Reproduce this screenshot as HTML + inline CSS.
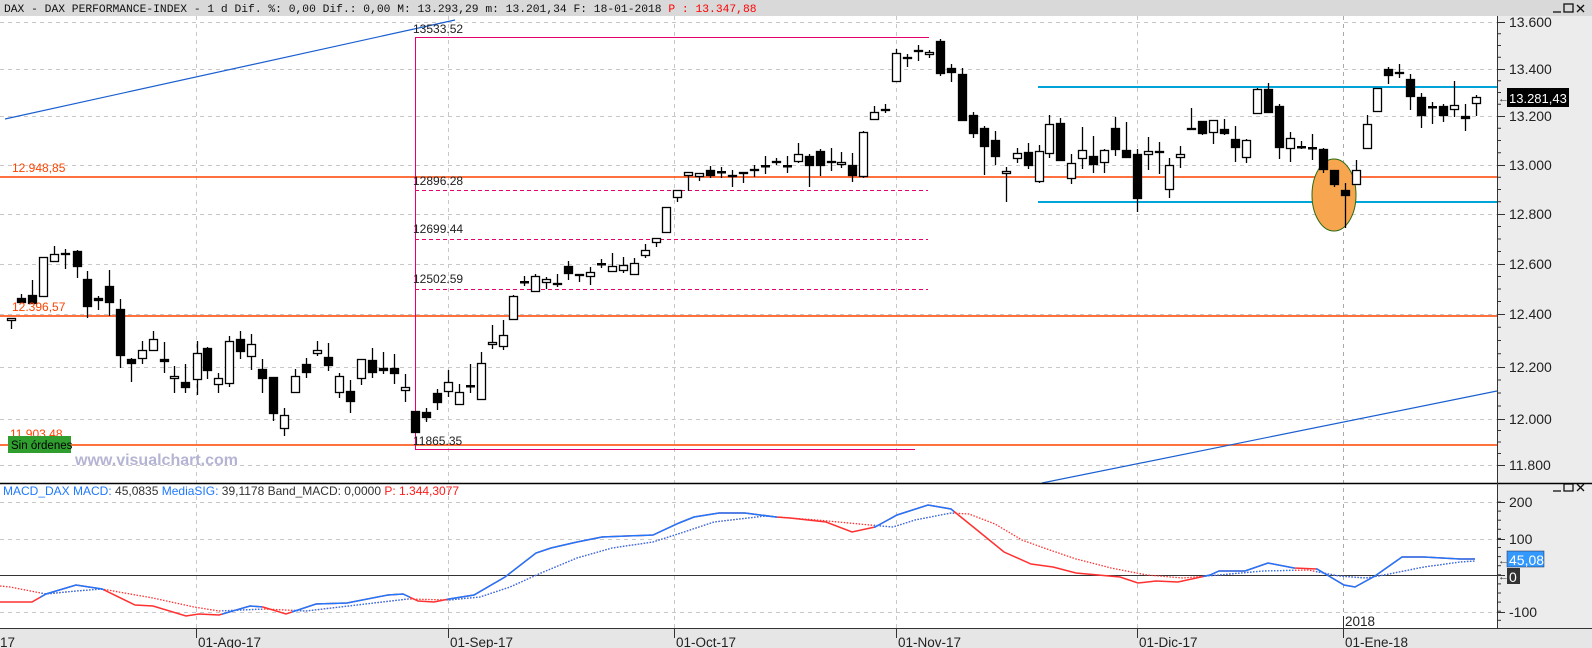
<!DOCTYPE html>
<html><head><meta charset="utf-8"><style>
html,body{margin:0;padding:0;background:#fff;}
body{width:1592px;height:648px;overflow:hidden;position:relative;font-family:"Liberation Sans",sans-serif;}
svg{position:absolute;left:0;top:0;}
</style></head><body>
<svg id="s" width="1592" height="648" xmlns="http://www.w3.org/2000/svg" font-family="Liberation Sans, sans-serif">
<defs>
<clipPath id="cm"><rect x="0" y="16" width="1497" height="467"/></clipPath>
<clipPath id="cb"><rect x="0" y="484" width="1497" height="144"/></clipPath>
<clipPath id="blueR">
<rect x="40" y="484" width="64" height="144"/><rect x="222" y="484" width="40" height="144"/>
<rect x="292" y="484" width="118" height="144"/><rect x="447" y="484" width="330" height="144"/>
<rect x="874" y="484" width="80" height="144"/><rect x="1203" y="484" width="92" height="144"/>
<rect x="1316" y="484" width="181" height="144"/></clipPath>
</defs>
<rect x="0" y="0" width="1592" height="16" fill="#d9d9d9"/>
<rect x="1497" y="16" width="95" height="612" fill="#ececec"/>
<rect x="0" y="628" width="1592" height="20" fill="#e6e6e6"/>
<text x="4" y="12" font-family="Liberation Mono, monospace" font-size="11.3" fill="#111">DAX - DAX PERFORMANCE-INDEX -  1 d Dif. %: 0,00 Dif.: 0,00 M: 13.293,29 m: 13.201,34 F: 18-01-2018 <tspan fill="#ff0000">P : 13.347,88</tspan></text>
<g fill="none" stroke="#111" stroke-width="1.3">
<line x1="1553" y1="12" x2="1561" y2="12"/><rect x="1564" y="4" width="9" height="8"/><line x1="1577" y1="5" x2="1584" y2="12"/><line x1="1584" y1="5" x2="1577" y2="12"/>
<line x1="1553" y1="491" x2="1561" y2="491"/><rect x="1564" y="484" width="9" height="7"/><line x1="1577" y1="484" x2="1584" y2="491"/><line x1="1584" y1="484" x2="1577" y2="491"/>
</g>
<g id="grid" stroke="#c8c8c8" stroke-dasharray="4,4" stroke-width="1"></g>
<g clip-path="url(#cm)" id="main"></g>
<g clip-path="url(#cb)" id="macd"></g>
<line x1="0" y1="483.5" x2="1592" y2="483.5" stroke="#000" stroke-width="1.5"/>
<line x1="1497.5" y1="16" x2="1497.5" y2="628" stroke="#333"/>
<line x1="0" y1="628.5" x2="1592" y2="628.5" stroke="#333"/>
<g id="ticks" stroke="#333"></g>
<g font-size="14" fill="#222">
<text x="1509" y="27">13.600</text><text x="1509" y="74">13.400</text><text x="1509" y="121">13.200</text>
<text x="1509" y="170">13.000</text><text x="1509" y="219">12.800</text><text x="1509" y="269">12.600</text>
<text x="1509" y="319">12.400</text><text x="1509" y="372">12.200</text><text x="1509" y="424">12.000</text>
<text x="1509" y="470">11.800</text>
<text x="1509" y="507">200</text><text x="1509" y="544">100</text><text x="1509" y="617">-100</text>
</g>
<rect x="1507" y="88" width="62" height="19" fill="#000"/>
<text x="1509" y="103" font-size="13" fill="#fff">13.281,43</text>
<text x="1498" y="102" font-size="11" fill="#333">←</text>
<rect x="1507" y="551" width="37" height="16" fill="#3399ff" stroke="#224" stroke-width="0.5"/>
<text x="1509" y="565" font-size="14" fill="#fff">45,08</text>
<rect x="1507" y="568" width="13" height="16" fill="#333"/>
<text x="1509" y="582" font-size="14" fill="#fff">0</text>
<text x="1498" y="564" font-size="11" fill="#333">←</text>
<text x="1498" y="580" font-size="11" fill="#333">←</text>
<g font-size="13.5" fill="#222">
<text x="0" y="647">17</text><text x="198" y="647">01-Ago-17</text><text x="450" y="647">01-Sep-17</text>
<text x="676" y="647">01-Oct-17</text><text x="898" y="647">01-Nov-17</text><text x="1139" y="647">01-Dic-17</text>
<text x="1345" y="647">01-Ene-18</text><text x="1345" y="626">2018</text>
</g>
<text x="3" y="495" font-size="12" fill="#1e78ff">MACD_DAX MACD: <tspan fill="#333">45,0835</tspan> MediaSIG: <tspan fill="#333">39,1178  Band_MACD: 0,0000</tspan> <tspan fill="#ff1a1a">P: 1.344,3077</tspan></text>
</svg>
<script>
var NS="http://www.w3.org/2000/svg";
function el(p,t,a){var e=document.createElementNS(NS,t);for(var k in a)e.setAttribute(k,a[k]);p.appendChild(e);return e;}
var g=document.getElementById('grid'),m=document.getElementById('main'),mc=document.getElementById('macd'),tk=document.getElementById('ticks');
[22,69,116,165,214,264,314,367,419,465].forEach(function(y){el(g,'line',{x1:0,x2:1497,y1:y+.5,y2:y+.5});});
[502,539,612].forEach(function(y){el(g,'line',{x1:0,x2:1497,y1:y+.5,y2:y+.5});});
[196,448,674,896,1137].forEach(function(x){el(g,'line',{x1:x+.5,x2:x+.5,y1:16,y2:628});el(tk,'line',{x1:x+.5,x2:x+.5,y1:628,y2:638});});
el(g,'line',{x1:1343.5,x2:1343.5,y1:16,y2:628,stroke:'#aaa'});el(tk,'line',{x1:1343.5,x2:1343.5,y1:616,y2:638});
var lv=[22,69,116,165,214,264,314,367,419,465];
for(var i=0;i<lv.length;i++){el(tk,'line',{x1:1497,x2:1505,y1:lv[i]+.5,y2:lv[i]+.5});if(i<lv.length-1)for(var j=1;j<4;j++){var y=lv[i]+(lv[i+1]-lv[i])*j/4;el(tk,'line',{x1:1497,x2:1501,y1:y,y2:y});}}
for(var y=502;y<=626;y+=9.1){el(tk,'line',{x1:1497,x2:1501,y1:y,y2:y});}
[502,539,575,612].forEach(function(y){el(tk,'line',{x1:1497,x2:1505,y1:y+.5,y2:y+.5});});
[177,316,445].forEach(function(y){el(m,'line',{x1:0,x2:1497,y1:y,y2:y,stroke:'#ff4400','stroke-width':1.5});});
var pk='#e8006e';
el(m,'line',{x1:415.5,x2:415.5,y1:37,y2:449,stroke:pk});
el(m,'line',{x1:415,x2:929,y1:37.5,y2:37.5,stroke:pk});
el(m,'line',{x1:415,x2:915,y1:449.5,y2:449.5,stroke:pk});
[190,239,289].forEach(function(y){el(m,'line',{x1:415,x2:928,y1:y+.5,y2:y+.5,stroke:pk,'stroke-dasharray':'4,3'});});
[87,202].forEach(function(y){el(m,'line',{x1:1038,x2:1497,y1:y,y2:y,stroke:'#00a4d8','stroke-width':2});});
el(m,'line',{x1:5,y1:119,x2:455,y2:20,stroke:'#1a5fd0','stroke-width':1.2});
el(m,'line',{x1:1042,y1:483,x2:1497,y2:391,stroke:'#1a5fd0','stroke-width':1.2});
el(m,'ellipse',{cx:1334,cy:195,rx:22,ry:36,fill:'#f8a550',stroke:'#2a6a10','stroke-width':1});
var C=[[11,318,321,318,329,0],[21,298,303,294,303,1],[32,295,304,280,304,1],[43,257,297,257,297,0],[54,254,262,246,262,0],[65,253,255,249,269,1],[77,251,267,250,278,1],[87,279,307,271,318,1],[98,298,301,296,310,1],[109,286,303,270,316,1],[120,309,356,299,368,1],[131,359,364,358,382,1],[142,350,359,341,364,0],[153,339,351,331,351,0],[164,359,362,342,373,1],[174,376,379,366,393,0],[185,382,388,364,393,1],[197,353,380,341,395,0],[207,348,371,347,379,1],[218,378,385,373,393,0],[229,341,384,336,387,0],[240,339,352,331,359,1],[251,344,357,334,370,0],[262,369,379,359,393,1],[273,377,414,377,421,1],[284,415,429,408,436,0],[295,376,393,369,393,0],[306,364,373,358,378,1],[317,350,354,341,356,0],[328,357,366,343,371,1],[339,376,393,373,398,0],[350,391,402,380,413,1],[361,359,379,359,385,0],[372,360,373,348,378,1],[383,368,371,352,374,1],[394,368,374,354,384,1],[405,387,391,374,402,0],[415,411,433,411,433,1],[426,412,418,408,422,1],[437,393,403,389,410,1],[448,382,392,370,397,0],[459,392,405,384,405,0],[470,386,386,364,393,0],[481,363,400,352,400,0],[492,342,345,325,349,0],[503,335,347,320,350,0],
[513,296,320,295,320,0],[524,282,282,276,286,0],[535,276,292,274,292,0],[546,279,283,277,289,0],[557,283,285,274,287,1],[568,266,274,261,280,1],[579,274,276,274,282,1],[590,272,277,267,285,0],[601,264,264,259,268,0],[612,266,272,253,272,0],[623,265,271,257,273,0],[634,263,275,258,275,0],[645,250,256,244,258,0],[656,238,243,238,247,0],[666,207,233,207,233,0],[677,190,198,190,202,0],[688,172,176,172,191,0],[699,173,177,173,181,0],[710,170,176,166,178,1],[721,172,172,167,178,0],[732,175,177,170,187,1],[743,172,174,172,183,1],[754,169,171,165,177,1],[765,166,166,156,174,0],[776,161,163,158,165,1],[787,166,166,156,173,0],[798,154,162,143,163,0],[809,156,166,154,187,1],[820,151,166,149,176,1],[831,161,163,148,171,1],[841,162,165,152,168,0],[852,165,176,153,182,1],[863,132,177,131,178,0],[874,112,120,106,120,0],[885,109,111,104,113,1],[896,53,82,49,82,0],[907,57,59,54,67,1],[918,50,52,45,61,1],[929,52,55,50,58,0],[940,41,74,39,76,1],[951,68,73,64,82,1],[962,74,121,68,121,1],[973,115,134,112,138,1],
[984,128,147,126,175,1],[995,140,157,131,165,1],[1006,171,174,167,202,0],[1017,153,159,148,163,0],[1028,152,166,143,169,1],[1039,151,182,145,183,0],[1049,124,154,115,158,0],[1060,123,161,118,161,1],[1071,163,179,154,184,0],[1082,150,159,127,169,0],[1093,156,165,136,173,1],[1104,150,163,149,173,0],[1115,128,150,117,156,1],[1126,150,158,122,158,1],[1137,154,199,149,212,1],[1148,151,155,137,170,0],[1159,151,153,142,174,1],[1169,165,190,158,198,0],[1180,154,158,146,168,0],[1191,128,130,108,130,1],[1202,121,134,121,135,1],[1213,120,133,120,144,0],[1224,129,134,119,135,1],[1235,139,148,126,162,1],[1246,140,158,139,163,0],[1257,89,114,88,114,0],[1268,89,113,83,113,1],[1279,106,148,104,159,1],[1290,138,149,132,162,0],[1301,147,147,141,149,0],[1312,148,148,134,160,0],[1323,149,170,148,173,1],[1334,170,185,170,187,1],[1345,190,196,183,228,1],[1356,170,185,160,185,0],[1367,124,149,115,149,0],[1377,88,112,88,112,0],[1388,69,76,67,84,1],[1399,72,74,64,78,1],[1410,79,97,74,110,1],[1421,97,116,93,128,1],[1432,107,107,102,124,0],[1443,106,116,104,122,1],[1454,105,110,81,117,0],[1465,116,119,104,131,1],[1476,97,104,95,116,0]];
C.forEach(function(c){var x=c[0]+.5;el(m,'line',{x1:x,x2:x,y1:c[3],y2:c[4],stroke:'#000','stroke-width':1.3});
 var h=c[2]-c[1];if(h<2){el(m,'rect',{x:c[0]-4,y:c[1]-1,width:9,height:2.5,fill:'#000'});}
 else el(m,'rect',{x:c[0]-3.5,y:c[1]+.5,width:8,height:h-1,fill:c[5]?'#000':'#fff',stroke:'#000','stroke-width':1.3});});
function tx(p,x,y,s,a){var e=el(p,'text',a||{});e.setAttribute('x',x);e.setAttribute('y',y);e.textContent=s;return e;}
var lb={'font-size':12,fill:'#222'};
tx(m,413,33,'13533.52',lb);tx(m,413,185,'12896.28',lb);tx(m,413,233,'12699.44',lb);tx(m,413,283,'12502.59',lb);tx(m,413,445,'11865.35',lb);
var ol={'font-size':12,fill:'#ff4400'};
tx(m,12,172,'12.948,85',ol);tx(m,12,311,'12.396,57',ol);tx(m,10,438,'11.903,48',ol);
el(m,'rect',{x:8,y:436,width:63,height:17,fill:'#2f9e2f'});
tx(m,11,449,'Sin órdenes',{'font-size':11.5,fill:'#000'});
tx(m,75,465,'www.visualchart.com',{'font-size':16,'font-weight':'bold',fill:'#b4b4d4'});
el(mc,'line',{x1:0,x2:1497,y1:575.5,y2:575.5,stroke:'#333'});
var M=[[0,602],[32,602],[46,594],[76,585],[102,589],[135,605],[153,606],[186,616],[199,614],[219,615],[250,606],[263,607],[286,614],[316,604],[347,603],[388,595],[403,594],[418,601],[434,602],[449,599],[474,595],[505,577],[536,553],[551,548],[577,542],[602,537],[653,535],[679,523],[694,517],[719,513],[745,513],[776,517],[790,518],[826,522],[852,532],[875,527],[897,515],[928,505],[951,509],[977,530],[1004,552],[1031,564],[1053,567],[1076,573],[1120,577],[1138,583],[1156,581],[1178,582],[1210,575],[1219,571],[1245,571],[1268,563],[1294,568],[1317,569],[1344,585],[1355,587],[1375,576],[1402,557],[1424,557],[1460,559],[1475,559]];
var S=[[0,586],[10,587],[46,594],[76,591],[102,589],[153,598],[194,607],[219,611],[265,609],[306,611],[357,605],[408,599],[449,600],[480,597],[510,587],[541,573],[577,558],[612,548],[653,542],[684,532],[714,522],[765,516],[790,518],[817,520],[870,525],[893,527],[915,520],[951,513],[969,514],[995,524],[1022,540],[1044,548],[1076,559],[1111,568],[1147,575],[1183,578],[1219,575],[1263,571],[1308,570],[1339,576],[1366,578],[1384,575],[1424,567],[1460,562],[1475,561]];
function pts(a){return a.map(function(p){return p[0]+','+p[1];}).join(' ');}
el(mc,'polyline',{points:pts(S),fill:'none',stroke:'#ff3030','stroke-width':1.3,'stroke-dasharray':'1.5,1.5'});
el(mc,'polyline',{points:pts(M),fill:'none',stroke:'#ff3030','stroke-width':1.5});
var bg=el(mc,'g',{'clip-path':'url(#blueR)'});
el(bg,'polyline',{points:pts(S),fill:'none',stroke:'#1e78ff','stroke-width':1.3,'stroke-dasharray':'1.5,1.5'});
el(bg,'polyline',{points:pts(M),fill:'none',stroke:'#1e78ff','stroke-width':1.5});
</script>
</body></html>
